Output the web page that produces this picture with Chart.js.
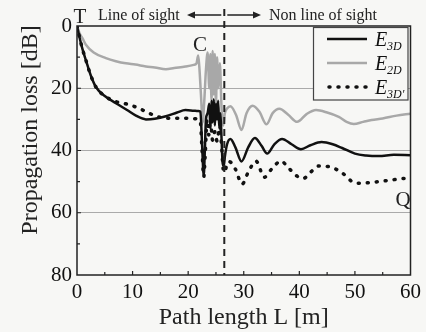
<!DOCTYPE html>
<html>
<head>
<meta charset="utf-8">
<script src="https://cdn.jsdelivr.net/npm/chart.js@4.4.1/dist/chart.umd.min.js"></script>
<style>
  html, body { margin: 0; padding: 0; background: #f7f7f5; }
  canvas { display: block; }
</style>
</head>
<body>
<canvas id="chart" width="426" height="332"></canvas>
<script>
// path length [m] and propagation loss [dB]
const e3dX = [0, 0.5, 1, 1.6, 2.5, 3.4, 5, 7, 9, 10.6, 12.4, 14, 16, 18, 19.5, 21, 21.8, 22.2, 22.5, 22.8, 23.0, 23.2, 23.5, 23.8, 24.0, 24.2, 24.4, 24.6, 24.8, 25.0, 25.2, 25.4, 25.6, 25.8, 26.0, 26.2, 26.4, 26.6, 27.0, 27.6, 28.5, 29.6, 30.8, 32.0, 33.2, 34.2, 35.5, 36.9, 38.6, 40.3, 42, 44, 46, 47.7, 50, 52, 54.3, 57, 60];
const e3dY = [0, 4, 7.5, 11, 16, 19.6, 22.5, 24.8, 27, 28.8, 30, 29.8, 29, 27.8, 27, 27.2, 27.3, 27.5, 38, 48, 40, 30, 28, 25, 33, 24, 31, 23.5, 32, 25, 30, 24, 33, 28, 36, 44, 45, 42, 38, 36.3, 39, 43.5, 39, 36, 38.5, 41, 38, 36.3, 38, 39.6, 38.3, 37.3, 38, 39.2, 41, 41.6, 41.8, 41.4, 41.5];

const e2dX = [0, 0.5, 1, 1.6, 3, 5.2, 7, 8.8, 10.5, 12.4, 14, 16, 17.5, 19.5, 21, 21.5, 21.8, 22.0, 22.3, 22.6, 22.9, 23.2, 23.5, 23.8, 24.0, 24.2, 24.4, 24.6, 24.8, 25.0, 25.2, 25.4, 25.7, 26.0, 26.3, 26.6, 27.0, 27.6, 28.6, 29.6, 30.5, 31.6, 32.8, 34.1, 35.2, 36.4, 38, 39.6, 41.3, 43, 45, 47.1, 48.5, 49.8, 51.5, 53, 55, 57.5, 60];
const e2dY = [0, 2.5, 4, 6, 8.5, 10.3, 11.3, 12, 12.4, 13, 13.3, 13.9, 13.5, 13, 12.5, 12, 9.5, 13, 22, 31, 24, 14, 8.5, 20, 9, 24, 8, 22, 9, 25, 10, 20, 12, 26, 32, 28, 26.5, 25.8, 28.5, 33.4, 28, 25.6, 27.5, 31.6, 28, 26.6, 28.5, 30.8, 28.3, 27, 27.8, 29.2, 30.8, 31.5, 30.8, 30.2, 29.7, 28.8, 28.2];

const e3dpX = [0, 0.5, 1, 1.6, 2.5, 3.4, 5, 7, 8.8, 10.5, 11.8, 14, 16, 18, 19.5, 21.5, 22.2, 22.5, 22.8, 23.1, 23.4, 23.7, 24.0, 24.4, 24.8, 25.2, 25.6, 26.0, 26.3, 26.6, 27.0, 27.4, 28.5, 29.7, 30.8, 32.2, 33.7, 35, 36.7, 38, 39.4, 40.7, 42, 43.5, 45.3, 46.8, 48, 49.5, 51, 52.7, 54.3, 56.5, 58.8, 60];
const e3dpY = [0, 4, 7.5, 11, 16, 19.6, 22.5, 24.3, 25, 26, 27, 28.8, 29.6, 29.6, 29.6, 29.8, 31, 40, 48.5, 40, 30, 35, 30, 36.7, 34, 37, 33, 38, 46, 47, 44, 43.6, 46, 50.8, 47, 43.4, 48.6, 46, 43.4, 45.5, 48, 49, 47, 45, 45.2, 46.2, 47.6, 50, 50.5, 50.3, 50, 49.5, 49, 49];

const xTicks = [0, 10, 20, 30, 40, 50, 60];
const yTicks = [0, 20, 40, 60, 80];
const boundaryL = 26.5;

function pts(xs, ys) {
  return xs.map((x, i) => ({ x: x, y: ys[i] }));
}

const serif = "'Liberation Serif', 'Times New Roman', serif";

const extras = {
  id: "extras",
  beforeDraw(chart) {
    const c = chart.ctx;
    c.save();
    c.fillStyle = "#f7f7f5";
    c.fillRect(0, 0, chart.width, chart.height);
    c.restore();
  },
  afterDraw(chart) {
    const c = chart.ctx;
    const a = chart.chartArea;
    const xs = chart.scales.x;
    const ys = chart.scales.y;
    c.save();

    // frame
    c.strokeStyle = "#222";
    c.lineWidth = 1.5;
    c.strokeRect(a.left, a.top, a.right - a.left, a.bottom - a.top);

    // inside ticks
    c.lineWidth = 1.2;
    c.beginPath();
    for (let v = 5; v < 60; v += 5) {
      const px = xs.getPixelForValue(v);
      c.moveTo(px, a.bottom);
      c.lineTo(px, a.bottom - (v % 10 === 0 ? 4 : 3));
    }
    for (let v = 10; v < 80; v += 10) {
      const py = ys.getPixelForValue(v);
      c.moveTo(a.left, py);
      c.lineTo(a.left + (v % 20 === 0 ? 4 : 3), py);
    }
    c.stroke();

    // boundary line between LOS and NLOS
    const bx = xs.getPixelForValue(boundaryL);
    c.setLineDash([7, 5]);
    c.lineWidth = 2;
    c.beginPath();
    c.moveTo(bx, 9);
    c.lineTo(bx, a.bottom);
    c.stroke();
    c.setLineDash([]);

    // arrows
    c.lineWidth = 1.3;
    c.fillStyle = "#222";
    c.beginPath();
    c.moveTo(192, 15); c.lineTo(bx - 3, 15);
    c.moveTo(bx + 3, 15); c.lineTo(256, 15);
    c.stroke();
    c.beginPath();
    c.moveTo(187, 15); c.lineTo(195, 11.5); c.lineTo(195, 18.5); c.closePath();
    c.moveTo(261, 15); c.lineTo(253, 11.5); c.lineTo(253, 18.5); c.closePath();
    c.fill();

    // annotations
    c.fillStyle = "#222";
    c.textBaseline = "alphabetic";
    c.textAlign = "left";
    c.font = "16px " + serif;
    c.fillText("Line of sight", 98, 20);
    c.fillText("Non line of sight", 269, 20);
    c.font = "21px " + serif;
    c.textAlign = "center";
    c.fillText("T", 80, 23);
    c.fillText("C", 200, 51);
    c.fillText("Q", 403, 206);

    // axis titles
    c.font = "24px " + serif;
    c.fillText("Path length L [m]", (a.left + a.right) / 2, 324);
    c.save();
    c.translate(37, 130);
    c.rotate(-Math.PI / 2);
    c.fillText("Propagation loss [dB]", 0, 0);
    c.restore();

    // legend
    c.fillStyle = "#f7f7f5";
    c.fillRect(313, 28, 95, 72);
    c.strokeStyle = "#444";
    c.lineWidth = 1.2;
    c.strokeRect(313.5, 27.5, 94.5, 72.5);
    const rows = [
      { y: 39, color: "#111", dash: [], cap: "butt", w: 2.5, sub: "3D" },
      { y: 63, color: "#a8a8a8", dash: [], cap: "butt", w: 2.5, sub: "2D" },
      { y: 87, color: "#111", dash: [1, 8], cap: "round", w: 3.5, sub: "3D'" }
    ];
    rows.forEach((r) => {
      c.strokeStyle = r.color;
      c.lineWidth = r.w;
      c.lineCap = r.cap;
      c.setLineDash(r.dash);
      c.beginPath();
      c.moveTo(r.cap === "round" ? 329 : 327, r.y);
      c.lineTo(367, r.y);
      c.stroke();
      c.setLineDash([]);
      c.lineCap = "butt";
      c.fillStyle = "#111";
      c.textAlign = "left";
      c.font = "italic 20px " + serif;
      c.fillText("E", 375, r.y + 7);
      c.font = "italic 12px " + serif;
      c.fillText(r.sub, 387, r.y + 11);
    });

    c.restore();
  }
};

function draw() {
  new Chart(document.getElementById("chart"), {
    type: "line",
    data: {
      datasets: [
        {
          label: "E3D",
          data: pts(e3dX, e3dY),
          borderColor: "#111",
          borderWidth: 2.5,
          pointRadius: 0,
          cubicInterpolationMode: "monotone"
        },
        {
          label: "E3D'",
          data: pts(e3dpX, e3dpY),
          borderColor: "#111",
          borderWidth: 3.5,
          borderDash: [1, 8],
          borderCapStyle: "round",
          pointRadius: 0,
          cubicInterpolationMode: "monotone"
        },
        {
          label: "E2D",
          data: pts(e2dX, e2dY),
          borderColor: "#a8a8a8",
          borderWidth: 2.5,
          pointRadius: 0,
          cubicInterpolationMode: "monotone"
        }
      ]
    },
    options: {
      responsive: false,
      animation: false,
      devicePixelRatio: 1,
      layout: { padding: { left: 0, right: 14, top: 26, bottom: 0 } },
      plugins: { legend: { display: false }, tooltip: { enabled: false } },
      scales: {
        x: {
          type: "linear",
          min: 0,
          max: 60,
          afterBuildTicks: (s) => { s.ticks = xTicks.map((v) => ({ value: v })); },
          afterFit: (s) => { s.height = 57; },
          grid: { display: false, drawTicks: false },
          border: { display: false },
          ticks: { color: "#111", font: { family: serif, size: 21 }, padding: 5, maxRotation: 0 }
        },
        y: {
          type: "linear",
          min: 0,
          max: 80,
          reverse: true,
          afterBuildTicks: (s) => { s.ticks = yTicks.map((v) => ({ value: v })); },
          afterFit: (s) => { s.width = 77; },
          grid: {
            drawTicks: false,
            color: (ctx) => (ctx.tick && [20, 40, 60].includes(ctx.tick.value) ? "#aaa" : "transparent"),
            lineWidth: 1
          },
          border: { display: false },
          ticks: { color: "#111", font: { family: serif, size: 21 }, padding: 5 }
        }
      }
    },
    plugins: [extras]
  });
}

Promise.all([
  document.fonts.load("21px 'Liberation Serif'"),
  document.fonts.load("italic 20px 'Liberation Serif'")
]).then(draw, draw);
</script>
</body>
</html>
